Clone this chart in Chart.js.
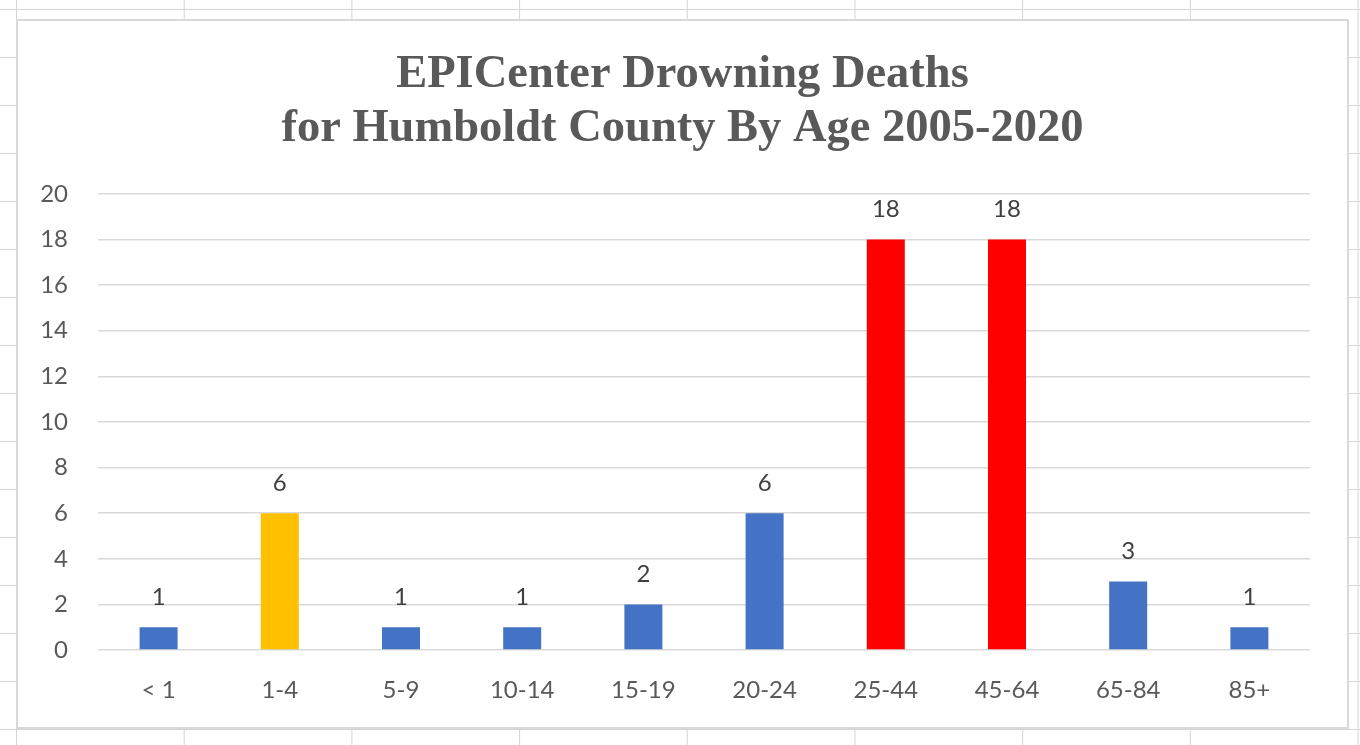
<!DOCTYPE html>
<html>
<head>
<meta charset="utf-8">
<script src="https://cdn.jsdelivr.net/npm/chart.js@4"></script>
<style>
  html, body { margin: 0; padding: 0; }
  body {
    width: 1360px; height: 745px; overflow: hidden; position: relative;
    background-color: #ffffff;
    background-image:
      linear-gradient(to right, #d4d4d4 1px, transparent 1px),
      linear-gradient(to bottom, #d4d4d4 1px, transparent 1px);
    background-size: 167.7px 100%, 100% 48px;
    background-position: 16px 0, 0 9px;
  }
  #frame {
    position: absolute; left: 16px; top: 19px; width: 1333px; height: 710px;
    box-sizing: border-box; border: 2px solid #d9d9d9; background: #ffffff;
  }
  #inner { position: relative; width: 100%; height: 100%; }
</style>
</head>
<body>
<div id="frame"><div id="inner"><canvas id="c"></canvas></div></div>
<script>
const categories = ["< 1", "1-4", "5-9", "10-14", "15-19", "20-24", "25-44", "45-64", "65-84", "85+"];
const deaths = [1, 6, 1, 1, 2, 6, 18, 18, 3, 1];
const barColors = ["#4472C4", "#FFC000", "#4472C4", "#4472C4", "#4472C4", "#4472C4", "#FF0000", "#FF0000", "#4472C4", "#4472C4"];
const titleLines = ["EPICenter Drowning Deaths", "for Humboldt County By Age 2005-2020"];

const valueLabels = {
  id: 'valueLabels',
  afterDatasetsDraw(chart) {
    const ctx = chart.ctx;
    const meta = chart.getDatasetMeta(0);
    ctx.save();
    ctx.font = '24px Lato';
    ctx.fillStyle = '#404040';
    ctx.textAlign = 'center';
    ctx.textBaseline = 'alphabetic';
    meta.data.forEach((bar, i) => {
      ctx.fillText(String(chart.data.datasets[0].data[i]), bar.x, bar.y - 22.5);
    });
    ctx.restore();
  }
};

new Chart(document.getElementById('c'), {
  type: 'bar',
  data: {
    labels: categories,
    datasets: [{
      data: deaths,
      backgroundColor: barColors,
      borderWidth: 0,
      categoryPercentage: 1,
      barPercentage: 0.3135,
      yAxisID: 'y'
    }]
  },
  options: {
    responsive: true,
    maintainAspectRatio: false,
    animation: false,
    devicePixelRatio: 1,
    layout: { padding: 0 },
    plugins: {
      legend: { display: false },
      tooltip: { enabled: false },
      title: {
        display: true,
        text: titleLines,
        color: '#595959',
        font: { family: '"Liberation Serif", "Times New Roman", serif', size: 46.5, weight: 'bold', lineHeight: 1.16 },
        padding: { top: 27, bottom: 38 }
      }
    },
    scales: {
      x: {
        grid: { display: false, drawTicks: false },
        border: { display: false },
        ticks: { color: '#595959', font: { family: 'Lato', size: 24 }, padding: 26, maxRotation: 0 },
        afterFit(s) { s.height = 77; }
      },
      y: {
        position: 'left',
        min: 0, max: 20,
        grid: { color: '#d9d9d9', lineWidth: 1.5, drawTicks: false },
        border: { display: false },
        ticks: { stepSize: 2, color: '#595959', font: { family: 'Lato', size: 24 }, padding: 30 },
        afterFit(s) { s.width = 80; }
      },
      yRightSpace: {
        position: 'right',
        display: true,
        grid: { display: false, drawTicks: false },
        border: { display: false },
        ticks: { display: false },
        afterFit(s) { s.width = 37; }
      }
    }
  },
  plugins: [valueLabels]
});
</script>
</body>
</html>
